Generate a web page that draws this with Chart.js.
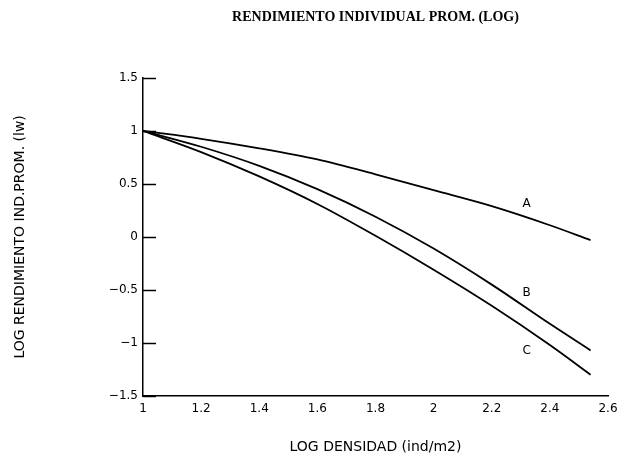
<!DOCTYPE html>
<html>
<head>
<meta charset="utf-8">
<title>Rendimiento individual prom. (log)</title>
<script src="https://cdn.jsdelivr.net/npm/chart.js@4/dist/chart.umd.min.js"></script>
<style>
  html, body { margin: 0; padding: 0; background: #fff; }
  #wrap { width: 620px; height: 467px; }
</style>
</head>
<body>
<div id="wrap"><canvas id="rendChart" width="620" height="467"></canvas></div>
<script>
// log densidad (x) y log rendimiento individual promedio (y) para las tres curvas
const densidad = [1, 1.2, 1.4, 1.6, 1.8, 2.0, 2.2, 2.4, 2.54];
const curvaA = [1.0, 0.925, 0.835, 0.73, 0.59, 0.44, 0.29, 0.11, -0.03];
const curvaB = [1.0, 0.85, 0.67, 0.45, 0.19, -0.11, -0.45, -0.82, -1.07];
const curvaC = [1.0, 0.8, 0.57, 0.31, 0.01, -0.31, -0.65, -1.02, -1.3];
const nombres = ["A", "B", "C"];
const ticksX = [1, 1.2, 1.4, 1.6, 1.8, 2, 2.2, 2.4, 2.6];
const ticksY = [-1.5, -1, -0.5, 0, 0.5, 1, 1.5];

const SANS = "'DejaVu Sans', Verdana, sans-serif";

function puntos(ys) {
  return densidad.map((x, i) => ({ x: x, y: ys[i] }));
}

// letra de cada curva, colocada en coordenadas de datos
const etiquetas = [
  { texto: nombres[0], x: 2.32, y: 0.31 },
  { texto: nombres[1], x: 2.32, y: -0.53 },
  { texto: nombres[2], x: 2.32, y: -1.07 },
];

// marcas del eje Y hacia dentro y letras de las curvas
const marcasYLetras = {
  id: "marcasYLetras",
  afterDraw(chart) {
    const ctx = chart.ctx;
    const sx = chart.scales.x;
    const sy = chart.scales.y;
    const left = chart.chartArea.left;
    ctx.save();
    ctx.strokeStyle = "#000";
    ctx.lineWidth = 1.5;
    ticksY.forEach((v) => {
      const py = Math.round(sy.getPixelForValue(v)) + 0.5;
      ctx.beginPath();
      ctx.moveTo(left, py);
      ctx.lineTo(left + 13, py);
      ctx.stroke();
    });
    ctx.fillStyle = "#000";
    ctx.font = "12px " + SANS;
    ctx.textAlign = "center";
    ctx.textBaseline = "middle";
    etiquetas.forEach((e) => {
      ctx.fillText(e.texto, sx.getPixelForValue(e.x), sy.getPixelForValue(e.y));
    });
    ctx.restore();
  },
};

const linea = (datos) => ({
  data: puntos(datos),
  borderColor: "#000",
  borderWidth: 1.8,
  pointRadius: 0,
  fill: false,
  cubicInterpolationMode: "monotone",
});

new Chart(document.getElementById("rendChart"), {
  type: "line",
  data: {
    datasets: [linea(curvaA), linea(curvaB), linea(curvaC)],
  },
  plugins: [marcasYLetras],
  options: {
    responsive: false,
    animation: false,
    layout: { padding: { top: 0, right: 12, bottom: 0, left: 0 } },
    plugins: {
      legend: { display: false },
      tooltip: { enabled: false },
      title: {
        display: true,
        fullSize: false,
        text: "RENDIMIENTO INDIVIDUAL PROM. (LOG)",
        color: "#000",
        font: { family: "'Liberation Serif', 'Times New Roman', serif", size: 14, weight: "bold" },
        padding: { top: 9, bottom: 52 },
      },
    },
    scales: {
      x: {
        type: "linear",
        min: 1,
        max: 2.6,
        afterBuildTicks: (s) => { s.ticks = ticksX.map((v) => ({ value: v })); },
        afterFit: (s) => { s.height = 71; s.paddingRight = 0; s.paddingLeft = 0; },
        grid: { display: false, drawTicks: false, tickLength: 0 },
        border: { display: true, color: "#000", width: 1.5 },
        ticks: {
          color: "#000",
          padding: 6,
          maxRotation: 0,
          font: { family: SANS, size: 12 },
          callback: (v) => String(v),
        },
        title: {
          display: true,
          text: "LOG DENSIDAD (ind/m2)",
          color: "#000",
          font: { family: SANS, size: 14 },
          padding: { top: 0, bottom: 11 },
        },
      },
      y: {
        type: "linear",
        min: -1.5,
        max: 1.5,
        afterBuildTicks: (s) => { s.ticks = ticksY.map((v) => ({ value: v })); },
        afterFit: (s) => { s.width = 143; },
        grid: { display: false, drawTicks: false, tickLength: 0 },
        border: { display: true, color: "#000", width: 1.5 },
        ticks: {
          color: "#000",
          padding: 5,
          font: { family: SANS, size: 12 },
          callback: (v) => String(v).replace("-", "\u2212"),
        },
        title: {
          display: true,
          text: "LOG RENDIMIENTO IND.PROM. (lw)",
          color: "#000",
          font: { family: SANS, size: 14 },
          padding: { top: 12, bottom: 0 },
        },
      },
    },
  },
});
</script>
</body>
</html>
